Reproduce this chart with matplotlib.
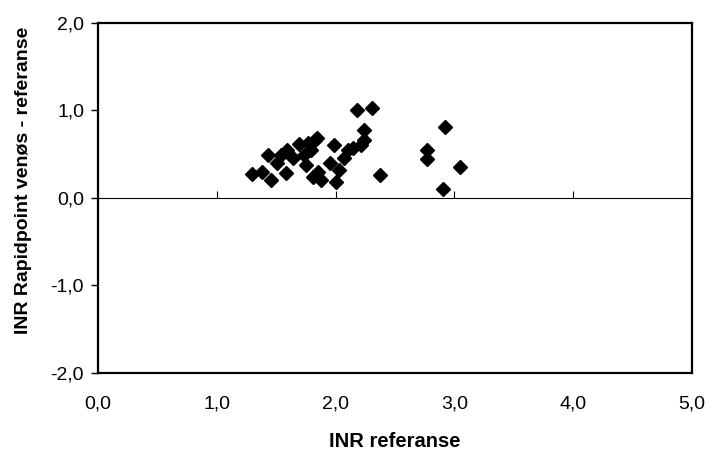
import matplotlib.pyplot as plt
from matplotlib.ticker import FuncFormatter, MultipleLocator, NullFormatter

# INR reference vs difference (Rapidpoint venous - reference)
inr_ref = [1.30, 1.38, 1.43, 1.46, 1.51, 1.54, 1.59, 1.58, 1.64, 1.69,
           1.73, 1.75, 1.77, 1.79, 1.83, 1.84, 1.81, 1.85, 1.88, 1.95,
           1.99, 2.00, 2.03, 2.07, 2.10, 2.15, 2.18, 2.21, 2.24, 2.24,
           2.31, 2.37, 2.77, 2.77, 2.92, 2.90, 3.05]
diff = [0.27, 0.30, 0.49, 0.21, 0.40, 0.49, 0.55, 0.29, 0.46, 0.62,
        0.49, 0.38, 0.63, 0.55, 0.66, 0.68, 0.24, 0.30, 0.21, 0.40,
        0.61, 0.18, 0.32, 0.46, 0.55, 0.57, 1.01, 0.61, 0.66, 0.78,
        1.03, 0.26, 0.55, 0.44, 0.81, 0.10, 0.35]

plt.rcParams['font.family'] = ['Liberation Sans', 'DejaVu Sans']

fig = plt.figure(figsize=(7.15, 4.51), dpi=100)
ax = fig.add_axes([0.137, 0.173, 0.831, 0.776])

ax.plot(inr_ref, diff, 'kD', markersize=6.8, linestyle='none', zorder=3)

ax.set_xlim(0, 5)
ax.set_ylim(-2, 2)
ax.xaxis.set_major_locator(MultipleLocator(1))
ax.yaxis.set_major_locator(MultipleLocator(1))
comma = FuncFormatter(lambda v, p: f'{v:.1f}'.replace('.', ','))
ax.xaxis.set_major_formatter(comma)
ax.yaxis.set_major_formatter(comma)

for s in ax.spines.values():
    s.set_linewidth(1.6)
ax.tick_params(axis='x', length=0, pad=16, labelsize=14)
ax.tick_params(axis='y', direction='out', length=5, width=1, labelsize=14, pad=5)

# x axis crossing at zero
zx = ax.secondary_xaxis(0.5)
zx.spines['bottom'].set_linewidth(0.8)
zx.spines['bottom'].set_color('#333333')
zx.xaxis.set_major_locator(MultipleLocator(1))
zx.xaxis.set_major_formatter(NullFormatter())
zx.tick_params(direction='out', length=5, width=0.8)

ax.set_xlabel('INR referanse', fontweight='bold', fontsize=14.5)
ax.set_ylabel('INR Rapidpoint venøs - referanse', fontweight='bold', fontsize=14)
ax.xaxis.set_label_coords(0.5, -0.168)
ax.yaxis.set_label_coords(-0.111, 0.551)

fig.savefig('out.png', dpi=100)
